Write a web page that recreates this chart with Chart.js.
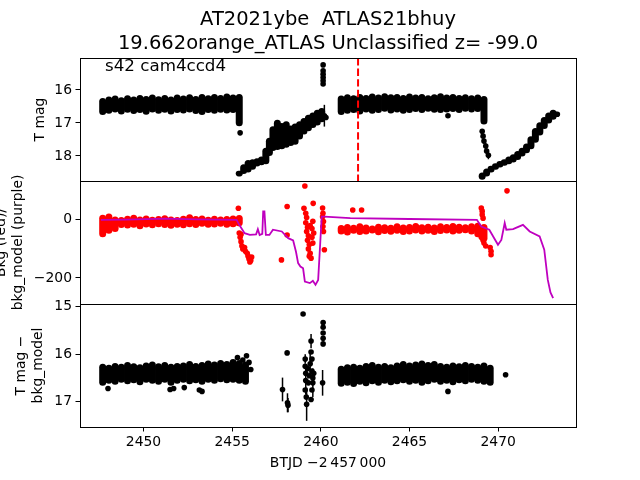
<!DOCTYPE html>
<html>
<head>
<meta charset="utf-8">
<script src="https://cdn.jsdelivr.net/npm/chart.js@4.4.1/dist/chart.umd.min.js"></script>
<style>
  body { margin: 0; background: #fff; }
  #wrap { position: relative; width: 640px; height: 480px; }
  #wrap canvas { position: absolute; left: 0; top: 0; }
</style>
</head>
<body>
<div id="wrap">
  <canvas id="magChart" width="640" height="480"></canvas>
  <canvas id="bkgChart" width="640" height="480"></canvas>
  <canvas id="diffChart" width="640" height="480"></canvas>
</div>
<script>
// --- tick labels ---
const timeTicks = [2450, 2455, 2460, 2465, 2470];
const magTicks = [16, 17, 18];
const bkgTicks = [-200, 0];
const diffTicks = [15, 16, 17];

// --- panel 1: T mag (dense runs stored as bright/faint envelope per epoch) ---
const bandADays = [2447.7, 2448.05, 2448.4, 2448.75, 2449.1, 2449.45, 2449.8, 2450.15, 2450.5, 2450.85, 2451.2, 2451.55, 2451.9, 2452.25, 2452.6, 2452.95, 2453.3, 2453.65, 2454.0, 2454.35, 2454.7, 2455.05, 2455.4];
const bandABright = [16.24, 16.2, 16.17, 16.22, 16.16, 16.2, 16.15, 16.18, 16.14, 16.19, 16.15, 16.2, 16.14, 16.17, 16.13, 16.18, 16.12, 16.16, 16.12, 16.15, 16.11, 16.14, 16.12];
const bandAFaint = [16.76, 16.72, 16.68, 16.74, 16.69, 16.73, 16.7, 16.75, 16.68, 16.72, 16.69, 16.74, 16.7, 16.71, 16.68, 16.73, 16.76, 16.7, 16.72, 16.69, 16.71, 16.7, 17.1];

const rise1Days = [2455.4, 2455.65, 2455.9, 2456.15, 2456.4, 2456.65, 2456.9, 2457.1, 2457.3, 2457.55, 2457.8, 2458.05, 2458.3, 2458.55, 2458.8, 2459.05, 2459.3, 2459.55, 2459.8, 2460.05, 2460.25];
const rise1Bright = [18.45, 18.25, 18.12, 18.1, 18.07, 18.02, 17.75, 17.45, 17.1, 16.9, 17.0, 16.95, 17.08, 17.02, 16.95, 16.85, 16.75, 16.68, 16.6, 16.55, 16.75];
const rise1Faint = [18.62, 18.55, 18.5, 18.42, 18.32, 18.28, 18.25, 18.0, 17.85, 17.82, 17.8, 17.75, 17.7, 17.66, 17.5, 17.35, 17.25, 17.15, 17.08, 16.98, 16.92];

const bandBDays = [2461.15, 2461.5, 2461.85, 2462.2, 2462.55, 2462.9, 2463.25, 2463.6, 2463.95, 2464.3, 2464.65, 2465.0, 2465.35, 2465.7, 2466.05, 2466.4, 2466.75, 2467.1, 2467.45, 2467.8, 2468.15, 2468.5, 2468.85, 2469.2];
const bandBBright = [16.17, 16.13, 16.16, 16.12, 16.15, 16.11, 16.14, 16.1, 16.13, 16.12, 16.15, 16.11, 16.14, 16.12, 16.16, 16.13, 16.1, 16.14, 16.12, 16.15, 16.13, 16.16, 16.14, 16.18];
const bandBFaint = [16.76, 16.72, 16.7, 16.74, 16.68, 16.72, 16.7, 16.66, 16.71, 16.68, 16.72, 16.7, 16.67, 16.7, 16.66, 16.69, 16.7, 16.68, 16.67, 16.7, 16.66, 16.68, 16.67, 17.05];

const rise2Days = [2469.1, 2469.35, 2469.6, 2469.85, 2470.1, 2470.35, 2470.6, 2470.85, 2471.1, 2471.35, 2471.6, 2471.85, 2472.1, 2472.35, 2472.6, 2472.85, 2473.1, 2473.3];
const rise2Bright = [18.5, 18.38, 18.3, 18.22, 18.15, 18.1, 18.02, 17.95, 17.85, 17.75, 17.62, 17.4, 17.15, 16.98, 16.82, 16.68, 16.6, 16.65];
const rise2Faint = [18.72, 18.62, 18.5, 18.42, 18.35, 18.3, 18.25, 18.2, 18.12, 18.02, 17.92, 17.8, 17.6, 17.38, 17.18, 17.02, 16.9, 16.82];

// single epochs in panel 1 (with errors)
const magPtDays = [2455.45, 2460.13, 2460.13, 2460.13, 2460.13, 2460.13, 2460.13, 2460.2, 2467.17, 2469.1, 2469.15, 2469.2, 2469.3, 2469.35, 2469.45];
const magPtMags = [17.3, 15.24, 15.42, 15.52, 15.62, 15.72, 15.82, 16.78, 16.78, 17.25, 17.4, 17.55, 17.7, 17.85, 17.98];
const magPtErrs = [0.03, 0.02, 0.03, 0.03, 0.03, 0.03, 0.04, 0.33, 0.03, 0.06, 0.07, 0.08, 0.1, 0.1, 0.12];

const discoveryDay = 2462.1;

// --- panel 2: background (red) and background model (purple) ---
const bkgEDays = [2447.7, 2448.05, 2448.4, 2448.75, 2449.1, 2449.45, 2449.8, 2450.15, 2450.5, 2450.85, 2451.2, 2451.55, 2451.9, 2452.25, 2452.6, 2452.95, 2453.3, 2453.65, 2454.0, 2454.35, 2454.7, 2455.05, 2455.4];
const bkgETop = [18, 22, 12, 10, 14, 18, 12, 15, 11, 13, 16, 12, 10, 14, 19, 13, 15, 11, 14, 12, 13, 15, 17];
const bkgEBottom = [-60, -48, -42, -28, -30, -27, -32, -26, -29, -25, -28, -31, -27, -29, -25, -28, -24, -27, -26, -24, -27, -25, -22];

const bkgFDays = [2461.15, 2461.5, 2461.85, 2462.2, 2462.55, 2462.9, 2463.25, 2463.6, 2463.95, 2464.3, 2464.65, 2465.0, 2465.35, 2465.7, 2466.05, 2466.4, 2466.75, 2467.1, 2467.45, 2467.8, 2468.15, 2468.5, 2468.85, 2469.2];
const bkgFTop = [-18, -14, -17, -12, -16, -19, -13, -15, -17, -12, -16, -14, -11, -15, -13, -16, -12, -14, -11, -13, -15, -12, -10, -14];
const bkgFBottom = [-50, -54, -48, -52, -50, -47, -53, -49, -51, -48, -52, -50, -47, -50, -48, -52, -49, -47, -50, -48, -46, -50, -60, -75];

const bkgPtDays = [2455.35, 2455.35, 2455.4, 2455.45, 2455.5, 2455.5, 2455.55, 2455.6, 2455.7, 2455.75, 2455.85, 2455.9, 2455.95, 2456.0, 2456.05, 2456.1,
  2457.78, 2458.1, 2458.1, 2459.05, 2459.1, 2459.57,
  2459.15, 2459.2, 2459.15, 2459.25, 2459.2, 2459.3, 2459.25, 2459.35, 2459.3, 2459.4, 2459.35, 2459.45, 2459.5, 2459.55, 2459.5, 2459.6, 2459.55, 2459.4,
  2460.1, 2460.12, 2460.1, 2460.15, 2460.12, 2460.15, 2460.2, 2461.8, 2462.3,
  2469.05, 2469.1, 2469.1, 2469.15, 2469.05, 2469.15, 2469.2, 2469.3, 2469.55, 2469.6, 2469.6, 2470.5];
const bkgPtVals = [40, -12, -45, -60, -75, -50, -90, -100, -95, -108, -115, -125, -135, -145, -140, -128,
  -138, 46, -52, 40, 117, 57,
  23, 8, -10, -25, -40, -55, -70, -85, -100, -115, -125, -132, -30, -5, -60, -45, -80, -20,
  41, 23, 11, -6, -23, -40, -103, 34, 34,
  41, 30, 18, 6, -60, -70, -80, -90, -95, -108, -120, 100];

const modelDays = [2447.6, 2449.0, 2451.3, 2453.0, 2455.25, 2455.4, 2455.7, 2456.0, 2456.35, 2456.45, 2456.55, 2456.7, 2456.75, 2456.82, 2456.9, 2457.1, 2457.3, 2457.8, 2458.16, 2458.44, 2458.6, 2458.72, 2458.85, 2459.0, 2459.1, 2459.38, 2459.55, 2459.7, 2459.85, 2460.05, 2460.2, 2461.66, 2465.0, 2468.8, 2469.05, 2469.5, 2469.99, 2470.18, 2470.37, 2470.46, 2470.84, 2471.1, 2471.4, 2471.78, 2472.34, 2472.6, 2472.8, 2472.95, 2473.1];
const modelVals = [0, 1, 4, 2, 0, -17, -46, -52, -50, -32, -52, -48, 29, 29, -52, -52, -34, -40, -63, -71, -110, -149, -161, -167, -213, -218, -210, -224, -207, 11, 11, 6, 3, 0, -23, -34, -86, -69, -11, -34, -32, -25, -17, -40, -57, -103, -207, -250, -270];

// --- panel 3: T mag - bkg_model ---
const bandCDays = [2447.7, 2448.05, 2448.4, 2448.75, 2449.1, 2449.45, 2449.8, 2450.15, 2450.5, 2450.85, 2451.2, 2451.55, 2451.9, 2452.25, 2452.6, 2452.95, 2453.3, 2453.65, 2454.0, 2454.35, 2454.7, 2455.05, 2455.4, 2455.75];
const bandCBright = [16.2, 16.22, 16.18, 16.2, 16.16, 16.19, 16.21, 16.17, 16.15, 16.19, 16.16, 16.2, 16.18, 16.17, 16.14, 16.18, 16.16, 16.13, 16.15, 16.12, 16.14, 16.1, 16.12, 16.15];
const bandCFaint = [16.66, 16.62, 16.64, 16.6, 16.63, 16.61, 16.65, 16.6, 16.62, 16.64, 16.6, 16.66, 16.62, 16.6, 16.63, 16.61, 16.64, 16.6, 16.62, 16.59, 16.61, 16.6, 16.62, 16.64];

const bandDDays = [2461.15, 2461.5, 2461.85, 2462.2, 2462.55, 2462.9, 2463.25, 2463.6, 2463.95, 2464.3, 2464.65, 2465.0, 2465.35, 2465.7, 2466.05, 2466.4, 2466.75, 2467.1, 2467.45, 2467.8, 2468.15, 2468.5, 2468.85, 2469.2, 2469.55];
const bandDBright = [16.24, 16.21, 16.2, 16.22, 16.18, 16.16, 16.2, 16.18, 16.21, 16.17, 16.14, 16.17, 16.15, 16.13, 16.16, 16.14, 16.18, 16.2, 16.17, 16.19, 16.16, 16.18, 16.2, 16.17, 16.22];
const bandDFaint = [16.68, 16.66, 16.69, 16.64, 16.67, 16.63, 16.66, 16.62, 16.65, 16.63, 16.61, 16.64, 16.62, 16.66, 16.63, 16.6, 16.64, 16.62, 16.65, 16.61, 16.63, 16.6, 16.62, 16.64, 16.66];

const diffPtDays = [2448.0, 2451.5, 2451.7, 2452.3, 2453.15, 2453.3, 2455.3, 2455.6, 2455.81, 2455.95, 2456.05, 2467.17,
  2457.84, 2458.1, 2458.12, 2458.15, 2459.0,
  2459.12, 2459.12, 2459.15, 2459.15, 2459.12, 2459.18, 2459.2, 2459.25, 2459.3, 2459.35, 2459.4, 2459.45, 2459.45, 2459.5, 2459.5, 2459.55, 2459.5, 2459.45, 2459.55, 2459.6,
  2460.13, 2460.13, 2460.13, 2460.13, 2460.13, 2460.1, 2470.42];
const diffPtMags = [16.72, 16.74, 16.72, 16.7, 16.75, 16.78, 16.07, 16.12, 16.03, 16.17, 16.32, 16.78,
  16.74, 15.97, 17.02, 17.07, 15.15,
  16.1, 16.25, 16.4, 16.55, 16.75, 16.9, 17.05, 16.3, 16.6, 16.45, 16.2, 15.72, 15.95, 16.1, 16.35, 16.6, 16.75, 16.95, 16.5, 16.4,
  15.33, 15.43, 15.55, 15.66, 15.78, 16.6, 16.43];
const diffPtErrs = [0, 0, 0, 0, 0, 0, 0, 0, 0, 0, 0, 0,
  0.25, 0.04, 0.2, 0.15, 0.02,
  0.1, 0, 0, 0.3, 0, 0, 0.35, 0, 0, 0, 0.25, 0.15, 0, 0, 0, 0.3, 0, 0, 0, 0,
  0.03, 0.03, 0.03, 0.03, 0.05, 0.27, 0.03];

// --- setup ---
Chart.defaults.font.family = "'DejaVu Sans', sans-serif";
Chart.defaults.color = '#000';

const X_MIN = 2446.42, X_MAX = 2474.39;
const TICK_FONT = { size: 13.9 };

function envelope(days, a, b) {
  return days.map((d, i) => ({ x: d, y: [a[i], b[i]] }));
}
function points(days, vals) {
  return days.map((d, i) => ({ x: d, y: vals[i] }));
}
function bandSet(data, color) {
  return { type: 'bar', data, backgroundColor: color, barThickness: 7, borderRadius: 3.5,
    borderSkipped: false, grouped: false, inflateAmount: 0, order: 2 };
}
function dotSet(data, color, errs) {
  return { type: 'scatter', data, backgroundColor: color, pointRadius: 2.8, pointBorderWidth: 0,
    errors: errs, order: 1 };
}
const minusFmt = v => v < 0 ? '\u2212' + Math.abs(v) : String(v);
const fixedTicks = values => axis => { axis.ticks = values.map(v => ({ value: v })); };

// frame round each panel
const frame = {
  id: 'frame',
  afterDraw(chart) {
    const { ctx, chartArea: a } = chart;
    const l = Math.round(a.left), t = Math.round(a.top);
    ctx.save();
    ctx.strokeStyle = '#000';
    ctx.lineWidth = 1;
    ctx.strokeRect(l + 0.5, t + 0.5, Math.round(a.right) - l, Math.round(a.bottom) - t);
    ctx.restore();
  }
};

// vertical error bars from dataset.errors
const errorBars = {
  id: 'errorBars',
  beforeDatasetsDraw(chart) {
    const { ctx, chartArea: a, scales: { x, y } } = chart;
    ctx.save();
    ctx.beginPath();
    ctx.rect(a.left, a.top, a.width, a.height);
    ctx.clip();
    chart.data.datasets.forEach(ds => {
      if (!ds.errors) return;
      ctx.strokeStyle = ds.backgroundColor;
      ctx.lineWidth = 1.5;
      ds.data.forEach((p, j) => {
        const e = ds.errors[j];
        if (!e) return;
        const px = x.getPixelForValue(p.x);
        ctx.beginPath();
        ctx.moveTo(px, y.getPixelForValue(p.y - e));
        ctx.lineTo(px, y.getPixelForValue(p.y + e));
        ctx.stroke();
      });
    });
    ctx.restore();
  }
};

function panelOptions(cfg) {
  return {
    responsive: false,
    animation: false,
    events: [],
    layout: { padding: { left: 0, right: 64, top: cfg.top, bottom: cfg.bottom } },
    plugins: {
      legend: { display: false },
      tooltip: { enabled: false },
      title: cfg.title || { display: false }
    },
    scales: {
      x: cfg.x || { type: 'linear', min: X_MIN, max: X_MAX, offset: false, display: false, grid: { offset: false } },
      y: {
        type: 'linear',
        reverse: cfg.reverse,
        min: cfg.yMin,
        max: cfg.yMax,
        beginAtZero: false,
        afterBuildTicks: fixedTicks(cfg.ticks),
        afterFit: s => { s.width = 80; },
        border: { display: false },
        grid: { drawOnChartArea: false, tickLength: 4.5, color: '#000', lineWidth: 1 },
        ticks: { padding: 3.5, font: TICK_FONT, callback: minusFmt },
        title: { display: true, text: cfg.yTitle, font: TICK_FONT, padding: { top: cfg.titlePad, bottom: 0 } }
      }
    }
  };
}

// --- panel 1 ---
const discoveryLine = {
  id: 'discoveryLine',
  afterDatasetsDraw(chart) {
    const { ctx, chartArea: a, scales: { x } } = chart;
    const px = x.getPixelForValue(discoveryDay);
    ctx.save();
    ctx.strokeStyle = '#ff0000';
    ctx.lineWidth = 2;
    ctx.setLineDash([7.4, 3.2]);
    ctx.beginPath();
    ctx.moveTo(px, a.top);
    ctx.lineTo(px, a.bottom);
    ctx.stroke();
    ctx.restore();
  }
};
const sectorLabel = {
  id: 'sectorLabel',
  afterDraw(chart) {
    const { ctx } = chart;
    ctx.save();
    ctx.font = "16.7px 'DejaVu Sans', sans-serif";
    ctx.fillStyle = '#000';
    ctx.textBaseline = 'alphabetic';
    ctx.fillText('s42 cam4ccd4', 105, 70.5);
    ctx.restore();
  }
};

new Chart(document.getElementById('magChart'), {
  type: 'scatter',
  data: {
    datasets: [
      bandSet(envelope(bandADays, bandABright, bandAFaint), '#000'),
      bandSet(envelope(rise1Days, rise1Bright, rise1Faint), '#000'),
      bandSet(envelope(bandBDays, bandBBright, bandBFaint), '#000'),
      bandSet(envelope(rise2Days, rise2Bright, rise2Faint), '#000'),
      dotSet(points(magPtDays, magPtMags), '#000', magPtErrs)
    ]
  },
  options: panelOptions({
    top: 0, bottom: 299, reverse: true, yMin: 15.03, yMax: 18.76, ticks: magTicks,
    yTitle: 'T mag', titlePad: 31.7,
    title: {
      display: true, fullSize: false,
      text: ['AT2021ybe  ATLAS21bhuy', '19.662orange_ATLAS Unclassified z= -99.0'],
      font: { size: 19.5, weight: 'normal' },
      padding: { top: 8.5, bottom: 2.7 }
    }
  }),
  plugins: [errorBars, frame, discoveryLine, sectorLabel]
});

// --- panel 2 ---
new Chart(document.getElementById('bkgChart'), {
  type: 'scatter',
  data: {
    datasets: [
      { type: 'line', data: points(modelDays, modelVals), borderColor: '#bf00bf', borderWidth: 1.8,
        pointRadius: 0, showLine: true, fill: false, tension: 0, order: 0 },
      bandSet(envelope(bkgEDays, bkgETop, bkgEBottom), '#ff0000'),
      bandSet(envelope(bkgFDays, bkgFTop, bkgFBottom), '#ff0000'),
      dotSet(points(bkgPtDays, bkgPtVals), '#ff0000')
    ]
  },
  options: panelOptions({
    top: 181, bottom: 176, reverse: false, yMin: -290, yMax: 134, ticks: bkgTicks,
    yTitle: ['Bkg (red)/', 'bkg_model (purple)'], titlePad: -6.5
  }),
  plugins: [errorBars, frame]
});

// --- panel 3 ---
new Chart(document.getElementById('diffChart'), {
  type: 'scatter',
  data: {
    datasets: [
      bandSet(envelope(bandCDays, bandCBright, bandCFaint), '#000'),
      bandSet(envelope(bandDDays, bandDBright, bandDFaint), '#000'),
      dotSet(points(diffPtDays, diffPtMags), '#000', diffPtErrs)
    ]
  },
  options: panelOptions({
    top: 304, bottom: 0, reverse: true, yMin: 14.94, yMax: 17.53, ticks: diffTicks,
    yTitle: ['T mag \u2212', 'bkg_model'], titlePad: 13.2,
    x: {
      type: 'linear', min: X_MIN, max: X_MAX, offset: false,
      afterBuildTicks: fixedTicks(timeTicks),
      afterFit: s => { s.height = 53; },
      border: { display: false },
      grid: { drawOnChartArea: false, tickLength: 4.5, color: '#000', lineWidth: 1, offset: false },
      ticks: { padding: 2.7, maxRotation: 0, autoSkip: false, font: TICK_FONT, callback: v => String(v) },
      title: { display: true, text: 'BTJD \u22122\u2009457\u2009000', font: TICK_FONT, padding: { top: 0, bottom: 8.7 } }
    }
  }),
  plugins: [errorBars, frame]
});
</script>
</body>
</html>
